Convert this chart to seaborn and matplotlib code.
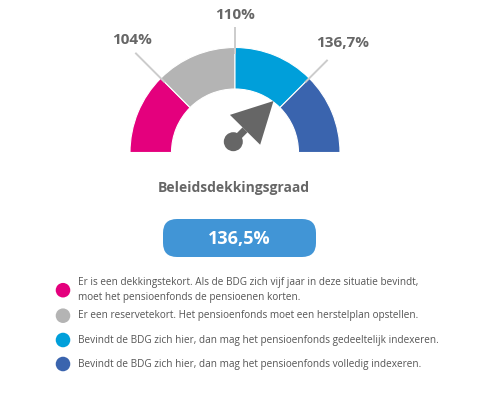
import numpy as np
import pandas as pd
import matplotlib
matplotlib.use("Agg")
import matplotlib.pyplot as plt
from matplotlib.patches import Wedge, Polygon, Circle, FancyBboxPatch
import seaborn as sns

# ---------------- data ----------------
zone_names = ["dekkingstekort", "reservetekort", "gedeeltelijk indexeren", "volledig indexeren"]
zone_colors = ["#E4007D", "#B4B4B4", "#009FDA", "#3A64AE"]
threshold_values = [104.0, 110.0, 136.7]
threshold_labels = ["104%", "110%", "136,7%"]
gauge_min, gauge_max = 98.0, 160.0  # nominal ends of the outer zones
current_value = 136.5
current_label = "136,5%"
title_text = "Beleidsdekkingsgraad"
legend_texts = [
    "Er is een dekkingstekort. Als de BDG zich vijf jaar in deze situatie bevindt,\nmoet het pensioenfonds de pensioenen korten.",
    "Er een reservetekort. Het pensioenfonds moet een herstelplan opstellen.",
    "Bevindt de BDG zich hier, dan mag het pensioenfonds gedeeltelijk indexeren.",
    "Bevindt de BDG zich hier, dan mag het pensioenfonds volledig indexeren.",
]

# ---------------- layout / style ----------------
W, H = 498, 394
cx, cy = 235.0, H - 152.5
r_out, r_in = 105.0, 63.5
leader_len = [141, 126, 131]
label_r = [152, 138, 154]
label_ang_shift = [-2.5, 0, 0.5]
text_gray = "#666666"
legend_gray = "#555555"

sns.set_theme(style="white")
plt.rcParams["font.family"] = ["Open Sans", "DejaVu Sans"]

fig = plt.figure(figsize=(W / 100, H / 100), dpi=100)
ax = fig.add_axes([0, 0, 1, 1])
ax.set_xlim(0, W)
ax.set_ylim(0, H)
ax.set_aspect("equal")
ax.axis("off")

# gauge zones: equal angular spans
n = len(zone_colors)
bounds_ang = np.linspace(180, 0, n + 1)
for i, col in enumerate(zone_colors):
    w = Wedge((cx, cy), r_out, bounds_ang[i + 1], bounds_ang[i], width=r_out - r_in,
              facecolor=col, edgecolor="white", linewidth=0.8)
    ax.add_patch(w)

# threshold leaders and labels
for k, (val, lab) in enumerate(zip(threshold_values, threshold_labels)):
    a = np.deg2rad(bounds_ang[k + 1])
    r0 = r_out - 6
    ax.plot([cx + r0 * np.cos(a), cx + leader_len[k] * np.cos(a)],
            [cy + r0 * np.sin(a), cy + leader_len[k] * np.sin(a)],
            color="#cccccc", lw=1.4, solid_capstyle="butt", zorder=1)
    al = np.deg2rad(bounds_ang[k + 1] + label_ang_shift[k])
    ax.text(cx + label_r[k] * np.cos(al), cy + label_r[k] * np.sin(al), lab,
            ha="center", va="center", fontsize=11, fontweight="bold", color=text_gray)

# needle angle from piecewise-linear mapping of value to zone angles
vals = [gauge_min] + threshold_values + [gauge_max]
ang = np.interp(current_value, vals, bounds_ang)
t = np.deg2rad(ang)
u = np.array([np.cos(t), np.sin(t)])
p = np.array([-u[1], u[0]])
pivot = np.array([cx - 1.7, cy + 10.8])
shaft_len, head_len, head_w, shaft_w = 16.7, 40.5, 42.5, 7.0
base = pivot + u * shaft_len
tip = base + u * head_len
shaft = Polygon([pivot + p * shaft_w / 2, base + p * shaft_w / 2,
                 base - p * shaft_w / 2, pivot - p * shaft_w / 2],
                closed=True, facecolor=text_gray, edgecolor="none", zorder=3)
head = Polygon([tip, base + p * head_w / 2, base - p * head_w / 2],
               closed=True, facecolor=text_gray, edgecolor="none", zorder=3)
ax.add_patch(shaft)
ax.add_patch(head)
ax.add_patch(Circle(tuple(pivot), 9.5, facecolor=text_gray, edgecolor="none", zorder=3))

# title
ax.text(234, H - 188, title_text, ha="center", va="center", fontsize=10,
        fontweight="bold", color=text_gray)

# value pill
pill = FancyBboxPatch((163 + 14, H - 257 + 14), 153 - 28, 38 - 28,
                      boxstyle="round,pad=14", facecolor="#4195D6", edgecolor="none")
ax.add_patch(pill)
ax.text(239.5, H - 238.5, current_label, ha="center", va="center", fontsize=13,
        fontweight="bold", color="white")

# legend
leg_y = [290.2, 315.7, 340.0, 364.0]
df = pd.DataFrame({"x": [63] * n, "y": [H - y for y in leg_y], "zone": zone_names})
sns.scatterplot(data=df, x="x", y="y", hue="zone", palette=dict(zip(zone_names, zone_colors)),
                s=110, edgecolor="none", legend=False, ax=ax)
for y, txt in zip(leg_y, legend_texts):
    ax.text(78, H - y, txt, ha="left", va="center", fontsize=7.2, color=legend_gray,
            linespacing=1.55)

ax.set_xlim(0, W)
ax.set_ylim(0, H)
ax.set_xlabel("")
ax.set_ylabel("")
fig.savefig("out.png", dpi=100)
